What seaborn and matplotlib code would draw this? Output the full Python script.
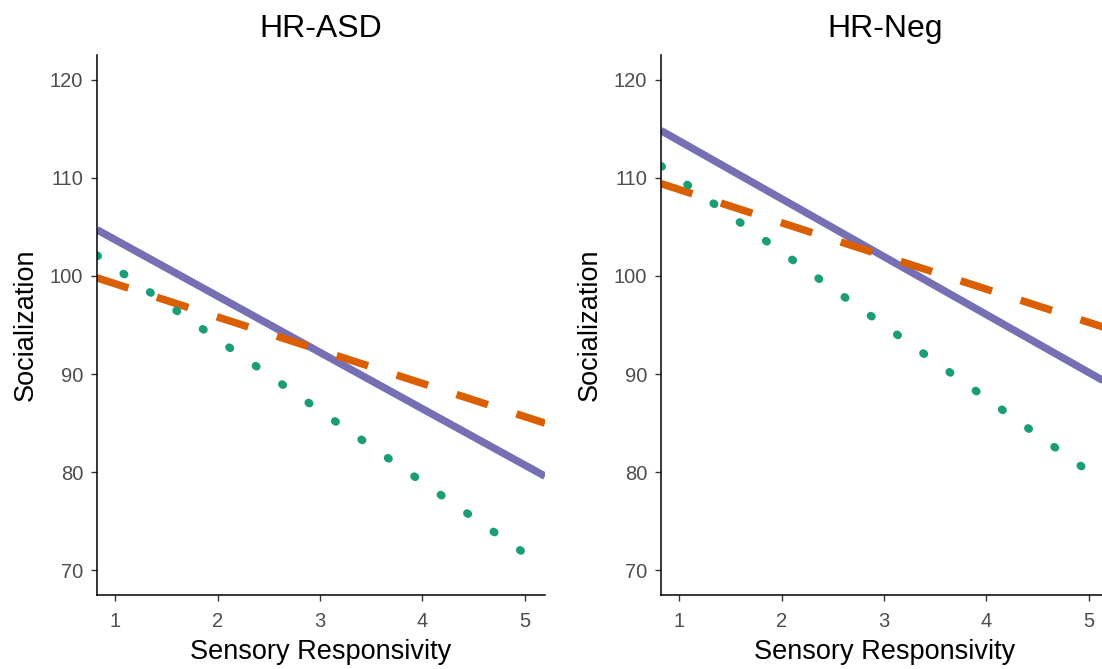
"""Simple slopes of Socialization on Sensory Responsivity, by group."""

import matplotlib.pyplot as plt
import pandas as pd
import seaborn as sns

sns.set_theme(style="ticks")
plt.rcParams['font.family'] = ['Liberation Sans', 'DejaVu Sans']

# ---- data (fitted line endpoints) ----
panels = ["HR-ASD", "HR-Neg"]
levels = ["Low", "Mean", "High"]
x_ends = [0.82, 5.2]

asd_low = [104.7, 79.6]    # purple solid
asd_mean = [99.8, 85.0]    # orange dashed
asd_high = [102.1, 70.3]   # green dotted

neg_low = [114.8, 89.0]
neg_mean = [109.4, 94.6]
neg_high = [111.2, 78.6]

rows = []
for panel, series in zip(panels, [[asd_low, asd_mean, asd_high],
                                  [neg_low, neg_mean, neg_high]]):
    for level, ys in zip(levels, series):
        for x, y in zip(x_ends, ys):
            rows.append({"Panel": panel, "Level": level,
                         "Sensory Responsivity": x, "Socialization": y})
df = pd.DataFrame(rows)

palette = {"Low": "#7570B3", "Mean": "#D95F02", "High": "#1B9E77"}
dashes = {"Low": "", "Mean": (4.4, 4.0), "High": (0.15, 3.85)}

fig = plt.figure(figsize=(11.02, 6.69), dpi=100)
ax_pos = [[97 / 1102, 74 / 669, 448 / 1102, 540 / 669],
          [661 / 1102, 74 / 669, 448 / 1102, 540 / 669]]

for panel, pos in zip(panels, ax_pos):
    ax = fig.add_axes(pos)
    sns.lineplot(
        data=df[df["Panel"] == panel], x="Sensory Responsivity", y="Socialization",
        hue="Level", style="Level", palette=palette, dashes=dashes,
        linewidth=5.4, legend=False, ax=ax,
    )
    for line in ax.lines:
        if line.get_color() == "#1B9E77":
            line.set_dash_capstyle("round")
            line.set_linewidth(5.8)
        else:
            line.set_dash_capstyle("butt")
        line.set_solid_capstyle("butt")
    ax.set_xlim(0.82, 5.2)
    ax.set_ylim(67.5, 122.5)
    ax.set_xticks([1, 2, 3, 4, 5])
    ax.set_yticks([70, 80, 90, 100, 110, 120])
    ax.set_title(panel, fontsize=23, color="black", pad=13)
    ax.set_xlabel("Sensory Responsivity", fontsize=19.5, color="black", labelpad=6)
    ax.set_ylabel("Socialization", fontsize=19.5, color="black", labelpad=8)
    ax.tick_params(labelsize=14.5, colors="#4D4D4D", length=4, width=1, pad=6)
    ax.tick_params(axis="x", pad=8)
    ax.tick_params(color="#333333")
    for side in ["top", "right"]:
        ax.spines[side].set_visible(False)
    for side in ["left", "bottom"]:
        ax.spines[side].set_color("black")
        ax.spines[side].set_linewidth(1.1)
    ax.grid(False)

fig.savefig("out.png", dpi=100)
